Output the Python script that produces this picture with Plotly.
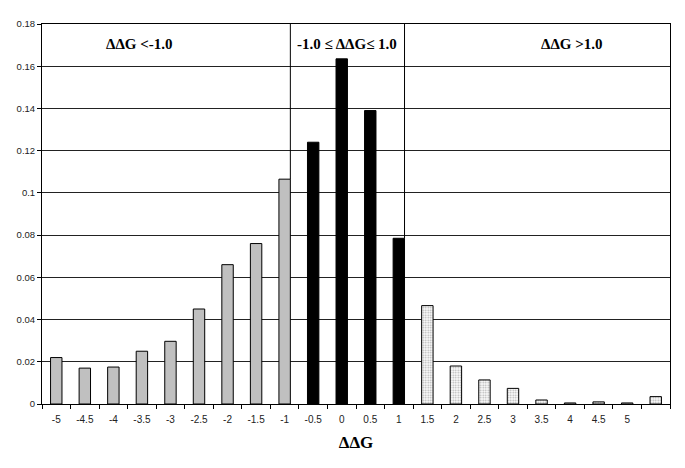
import plotly.graph_objects as go

categories = ["-5", "-4.5", "-4", "-3.5", "-3", "-2.5", "-2", "-1.5", "-1",
              "-0.5", "0", "0.5", "1",
              "1.5", "2", "2.5", "3", "3.5", "4", "4.5", "5", " "]
values = [0.022, 0.017, 0.0175, 0.025, 0.0297, 0.045, 0.066, 0.076, 0.1065,
          0.124, 0.1635, 0.139, 0.0785,
          0.0466, 0.018, 0.0114, 0.0074, 0.0019, 0.0005, 0.001, 0.0005, 0.0035]
groups = ["low"] * 9 + ["mid"] * 4 + ["high"] * 9
region_labels = ["ΔΔG <-1.0", "-1.0 ≤ ΔΔG≤ 1.0", "ΔΔG >1.0"]

BAR_W = 0.4
fig = go.Figure()

idx = list(range(len(categories)))
for g, fill in [("low", "#c0c0c0"), ("mid", "#000000"), ("high", "#ffffff")]:
    xs = [categories[i] for i in idx if groups[i] == g]
    ys = [values[i] for i in idx if groups[i] == g]
    marker = dict(color=fill, line=dict(color="#000000", width=1))
    if g == "high":
        marker["pattern"] = dict(shape=".", fgcolor="#606060", bgcolor="#ffffff",
                                 size=2.5, solidity=0.4)
    fig.add_trace(go.Bar(x=xs, y=ys, width=BAR_W, marker=marker, showlegend=False))

# vertical separators at right edges of last low bar and last mid bar
last_low = max(i for i in idx if groups[i] == "low")
last_mid = max(i for i in idx if groups[i] == "mid")
for i in (last_low, last_mid):
    fig.add_shape(type="line", xref="x", yref="y",
                  x0=i + BAR_W / 2, x1=i + BAR_W / 2, y0=values[i], y1=0.18,
                  line=dict(color="#000000", width=1))

font_serif = "Liberation Serif, Times New Roman, serif"
label_pos = [(2.93, 0.1705), (10.2, 0.1705), (18.06, 0.1705)]
for txt, (x, y) in zip(region_labels, label_pos):
    fig.add_annotation(x=x, y=y, xref="x", yref="y", text="<b>%s</b>" % txt,
                       showarrow=False, font=dict(family=font_serif, size=15, color="#000"))

fig.update_layout(
    width=685, height=468,
    margin=dict(l=34, r=23, t=16, b=72),
    paper_bgcolor="white", plot_bgcolor="white",
    xaxis=dict(type="category", categoryorder="array", categoryarray=categories,
               range=[-0.5, len(categories) - 0.5], automargin=False,
               showline=True, linecolor="#000", linewidth=1, mirror=True,
               ticks="outside", tickson="boundaries", ticklen=4, tickcolor="#000",
               ticklabelstandoff=6, showgrid=False,
               tickfont=dict(family="Liberation Sans, Arial, sans-serif", size=10, color="#222"),
               title=dict(text="<b>ΔΔG</b>", font=dict(family=font_serif, size=17, color="#000"),
                          standoff=12)),
    yaxis=dict(range=[0, 0.18], dtick=0.02, tick0=0, automargin=False,
               showline=True, linecolor="#000", linewidth=1, mirror=True,
               ticks="outside", ticklen=4, tickcolor="#000",
               showgrid=True, gridcolor="#222", gridwidth=1, zeroline=False,
               tickfont=dict(family="Liberation Sans, Arial, sans-serif", size=9.5, color="#222")),
)

fig.write_html("out.html")
